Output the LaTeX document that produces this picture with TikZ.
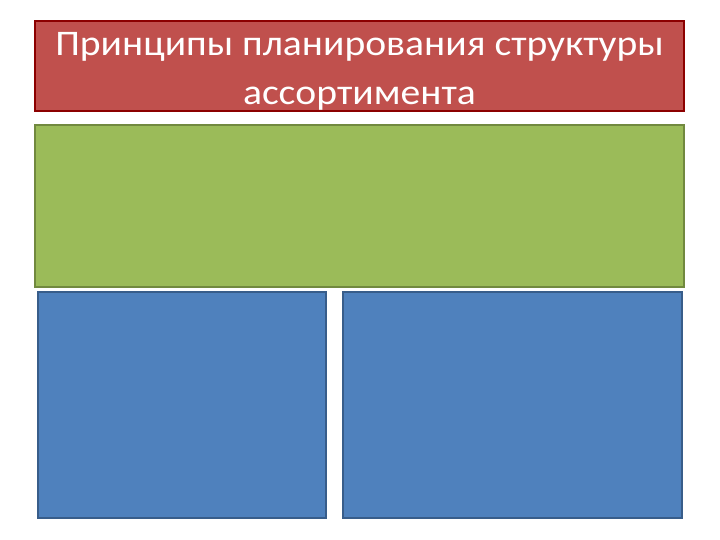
\documentclass[tikz,border=0pt]{standalone}
\usepackage{fontspec}
\setmainfont{Carlito}
\newfontfamily\titlefont[FakeStretch=1.1]{Carlito}
\begin{document}
\begin{tikzpicture}[x=1pt,y=1pt]
    % Stili
    \tikzstyle{titlebox}=[draw=red!55!black, fill={rgb,255:red,192;green,80;blue,77}, line width=1.2pt, minimum width=649pt, minimum height=90pt, inner sep=0pt, text=white, align=center, font=\titlefont\fontsize{36}{49}\selectfont]
    \tikzstyle{greenbox}=[draw={rgb,255:red,113;green,137;blue,63}, fill={rgb,255:red,155;green,187;blue,89}, line width=1.2pt, minimum width=649pt, minimum height=162pt]
    \tikzstyle{bluebox}=[draw={rgb,255:red,56;green,93;blue,138}, fill={rgb,255:red,79;green,129;blue,189}, line width=1.2pt, minimum height=226pt]

    % Cornice della pagina
    \useasboundingbox (0,0) rectangle (720,540);

    % Titolo
    \node[titlebox] (title) at (359.5,474) {\rule{0pt}{33pt}Принципы планирования структуры\\ассортимента};

    % Riquadro verde
    \node[greenbox] (middle) at (359.5,334) {};

    % Riquadri blu
    \node[bluebox, minimum width=288pt] (leftbox) at (182,135) {};
    \node[bluebox, minimum width=339pt] (rightbox) at (512.5,135) {};
\end{tikzpicture}
\end{document}
